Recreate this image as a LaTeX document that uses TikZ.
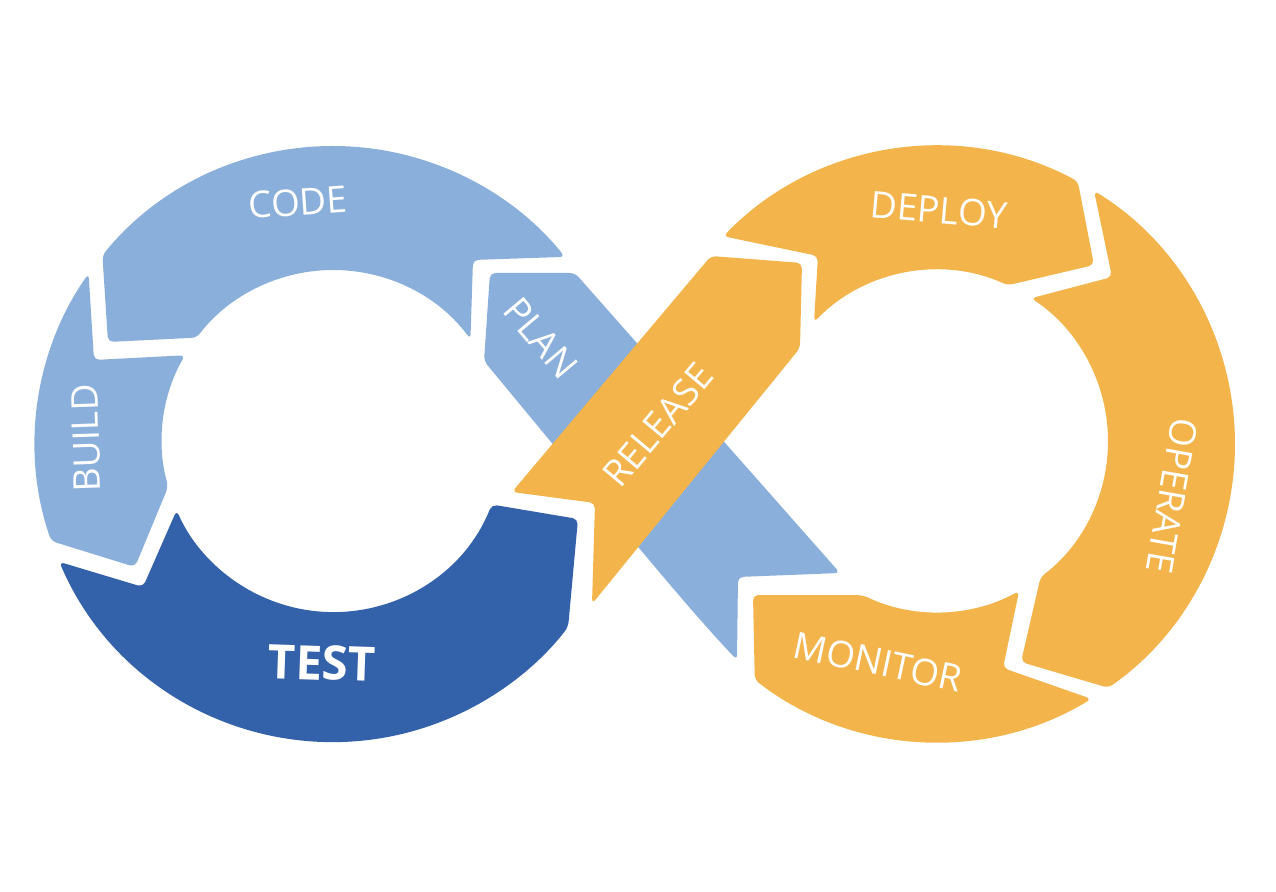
\documentclass[tikz,border=0pt]{standalone}
\usepackage{fontspec}
\setmainfont{Open Sans}
\definecolor{paleblue}{RGB}{138,175,219}
\definecolor{deepblue}{RGB}{52,98,170}
\definecolor{amber}{RGB}{242,180,75}
\begin{document}
\begin{tikzpicture}[x=0.02cm, y=-0.02cm,
		seg/.style={rounded corners=3pt},
		lbl/.style={text=white, inner sep=0pt, font=\fontsize{21}{25}\selectfont}]
			\useasboundingbox (0,0) rectangle (1276,892);
			\coordinate (lo) at (333,444);
			\coordinate (lh) at (333,441);
			\coordinate (ro) at (937,444);
			\coordinate (rh) at (937,441);
			
			\fill[paleblue, seg] (108,342) -- ([shift={(lo)}]-140.7:298) arc[start angle=-140.7, end angle=-38.9, radius=298] -- (473,260) -- ([shift={(lh)}]-36.5:171) arc[start angle=-36.5, end angle=-142.8, radius=171] -- cycle;
			\fill[paleblue, seg] (94,360) -- ([shift={(lo)}]-145.1:298) arc[start angle=-145.1, end angle=-199, radius=298] -- (135,567) -- ([shift={(lh)}]164.5:171) arc[start angle=164.5, end angle=210.1, radius=171] -- cycle;
			\fill[deepblue, seg] (143,587) -- ([shift={(lo)}]156.7:298) arc[start angle=156.7, end angle=37.9, radius=298] -- (578,519) -- ([shift={(lh)}]21.8:171) arc[start angle=21.8, end angle=156.1, radius=171] -- cycle;
			
			\fill[paleblue, seg] (490,273) -- (575,273) -- (840,573) -- (738,577) -- (737,660) .. controls (680,600) and (600,500) .. (551,442) -- (484,361) -- cycle;
			\fill[amber, seg] (512,492) -- (711,256) -- (802,263) -- (800,348) -- (592,604) -- (595,503) -- cycle;
			
			\fill[amber, seg] (818,256) -- ([shift={(ro)}]-135.8:298) arc[start angle=-135.8, end angle=-61.8, radius=298] -- (1094,265) -- ([shift={(rh)}]-65.6:171) arc[start angle=-65.6, end angle=-136, radius=171] -- cycle;
			\fill[amber, seg] (1112,277) -- ([shift={(ro)}]-58.2:298) arc[start angle=-58.2, end angle=54.9, radius=298] -- (1021,662) -- ([shift={(rh)}]52.7:171) arc[start angle=52.7, end angle=-56.6, radius=171] -- cycle;
			\fill[amber, seg] (1003,668) -- ([shift={(ro)}]58.8:298) arc[start angle=58.8, end angle=127.7, radius=298] -- (753,595) -- ([shift={(rh)}]115.6:171) arc[start angle=115.6, end angle=61.3, radius=171] -- cycle;
			
			\node[lbl, rotate=4] (code) at (298,202) {CODE};
			\node[lbl, rotate=92] (build) at (86,438) {BUILD};
			\node[lbl, rotate=-2, font=\fontsize{27}{32}\selectfont\bfseries] (test) at (322,663) {TEST};
			\node[lbl, rotate=-50] (plan) at (541,338) {PLAN};
			\node[lbl, rotate=50] (release) at (658,425) {RELEASE};
			\node[lbl, rotate=-5] (deploy) at (939,210) {DEPLOY};
			\node[lbl, rotate=-100] (operate) at (1172,496) {OPERATE};
			\node[lbl, rotate=-12] (monitor) at (878,662) {MONITOR};
		\end{tikzpicture}
\end{document}
